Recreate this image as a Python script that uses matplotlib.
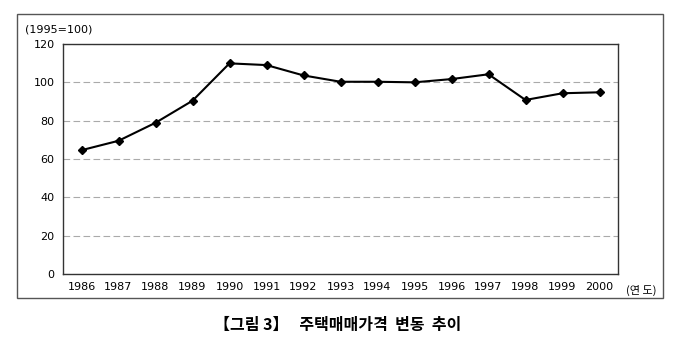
import matplotlib
matplotlib.use("Agg")
import matplotlib.pyplot as plt
from matplotlib.patches import Rectangle

plt.rcParams['font.family'] = ['DejaVu Sans', 'Noto Sans CJK KR']

years = ['1986', '1987', '1988', '1989', '1990', '1991', '1992', '1993',
         '1994', '1995', '1996', '1997', '1998', '1999', '2000']
values = [64.6, 69.5, 78.9, 90.4, 109.9, 109.0, 103.6, 100.3,
          100.3, 100.0, 101.7, 104.2, 90.8, 94.3, 94.8]
yticks = [0, 20, 40, 60, 80, 100, 120]

fig = plt.figure(figsize=(6.8, 3.41), dpi=100)
W, H = 680, 341

# outer frame
fig.patches.append(Rectangle((17 / W, 1 - 298 / H), (663 - 17) / W, (298 - 14) / H,
                             transform=fig.transFigure, fill=False,
                             edgecolor='#555555', linewidth=1.0))

ax = fig.add_axes([63 / W, 1 - 274 / H, (618 - 63) / W, (274 - 44) / H])
x = list(range(len(years)))
ax.plot(x, values, color='black', linewidth=1.5, marker='D', markersize=4.5,
        markerfacecolor='black', markeredgecolor='black')
ax.set_xlim(-0.5, len(years) - 0.5)
ax.set_ylim(0, 120)
ax.set_yticks(yticks)
ax.set_yticklabels([str(v) for v in yticks], fontsize=8)
ax.set_xticks(x)
ax.set_xticklabels(years, fontsize=8)
ax.tick_params(axis='both', length=0, pad=6)
ax.grid(axis='y', linestyle=(0, (6, 3)), color='#aaaaaa', linewidth=0.8)
ax.set_axisbelow(True)
for s in ax.spines.values():
    s.set_color('#333333')
    s.set_linewidth(1.0)

fig.text(25 / W, 1 - 29 / H, '(1995=100)', fontsize=8, ha='left', va='center')
fig.text(641 / W, 1 - 290 / H, '(연 도)', fontsize=8, ha='center', va='center',
         family=['Noto Sans CJK KR', 'DejaVu Sans'])
fig.text(338 / W, 1 - 325 / H, '【그림 3】   주택매매가격  변동  추이', fontsize=11.5,
         ha='center', va='center', fontweight='bold',
         family=['Noto Sans CJK KR', 'DejaVu Sans'])

fig.savefig('out.png', dpi=100)
